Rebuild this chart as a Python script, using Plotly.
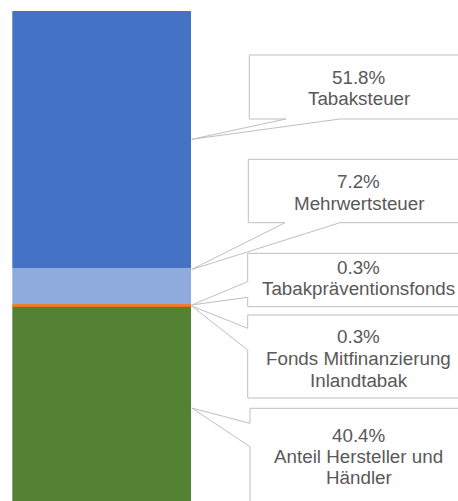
import plotly.graph_objects as go

OX, OY = 0, 0
WIN_W, WIN_H = 458, 501
W, H = WIN_W - OX, WIN_H - OY

# Data
categories = ["Anteil Hersteller und Händler", "Fonds Mitfinanzierung Inlandtabak",
              "Tabakpräventionsfonds", "Mehrwertsteuer", "Tabaksteuer"]
values = [40.4, 0.3, 0.3, 7.2, 51.8]
colors = ["#548235", "#E2701E", "#ED7D31", "#8FAADC", "#4472C4"]
label_lines = [
    ["40.4%", "Anteil Hersteller und", "Händler"],
    ["0.3%", "Fonds Mitfinanzierung", "Inlandtabak"],
    ["0.3%", "Tabakpräventionsfonds"],
    ["7.2%", "Mehrwertsteuer"],
    ["51.8%", "Tabaksteuer"],
]

fig = go.Figure()
for cat, v, c in zip(categories, values, colors):
    fig.add_trace(go.Bar(x=[0], y=[v], name=cat, marker=dict(color=c, line=dict(width=0)),
                         width=1, hoverinfo="name+y"))

def px(x):
    return (x - OX) / W

def py(y):
    return 1 - (y - OY) / H

def path(points):
    s = ""
    for i, (x, y) in enumerate(points):
        s += ("M" if i == 0 else "L") + f"{px(x):.5f},{py(y):.5f} "
    return s + "Z"

GRAY = "#BFBFBF"
R = 480  # beyond right edge
boxes = [
    [(249.3, 55), (R, 55), (R, 119), (340, 119), (191.7, 139.3), (286, 119), (249.3, 119)],
    [(248.3, 159.3), (R, 159.3), (R, 222.7), (340, 222.7), (191.7, 269.5), (285, 222.7), (248.3, 222.7)],
    [(247.7, 253.3), (R, 253.3), (R, 306.7), (247.7, 306.7), (247.7, 297.3), (191.7, 305), (247.7, 281.7)],
    [(247.7, 315), (R, 315), (R, 398), (247.7, 398), (247.7, 350), (191.7, 306), (247.7, 328.3)],
    [(250, 408.3), (R, 408.3), (R, 530), (250, 530), (250, 446.7), (191.7, 408), (250, 423.3)],
]
shapes = []
for b in boxes:
    shapes.append(dict(type="path", xref="paper", yref="paper", path=path(b),
                       line=dict(color=GRAY, width=1), fillcolor="rgba(255,255,255,0)", layer="above"))

text_pos = [
    (358.5, [435, 456.7, 477]),
    (358.5, [336, 358, 380]),
    (358.5, [267, 288.5]),
    (358.5, [181.7, 203.3]),
    (358.5, [77, 98.7]),
]
annotations = []
for lines, (cx, ys) in zip(label_lines, text_pos):
    for t, yy in zip(lines, ys):
        annotations.append(dict(text=t, x=px(cx), y=py(yy), xref="paper", yref="paper",
                                xanchor="center", yanchor="middle", showarrow=False,
                                font=dict(family="Liberation Sans, Arial, sans-serif", size=18.8,
                                          color="#595959")))

scale = 4.961  # pixels per percent
top_px = 11
y_top = 100 + (top_px - OY) / scale
y_bot = 100 - (WIN_H - top_px) / scale

fig.update_layout(
    barmode="stack",
    width=W, height=H,
    margin=dict(l=0, r=0, t=0, b=0),
    paper_bgcolor="white", plot_bgcolor="white",
    showlegend=False,
    xaxis=dict(domain=[px(12.3), px(191.3)], range=[-0.5, 0.5], visible=False, fixedrange=True),
    yaxis=dict(range=[y_bot, y_top], visible=False, fixedrange=True),
    shapes=shapes,
    annotations=annotations,
)

fig.write_html(
    "out.html",
    config={"displayModeBar": False},
    post_script="document.body.style.margin='0';document.body.style.overflow='hidden';"
                "document.documentElement.style.overflow='hidden';",
)
